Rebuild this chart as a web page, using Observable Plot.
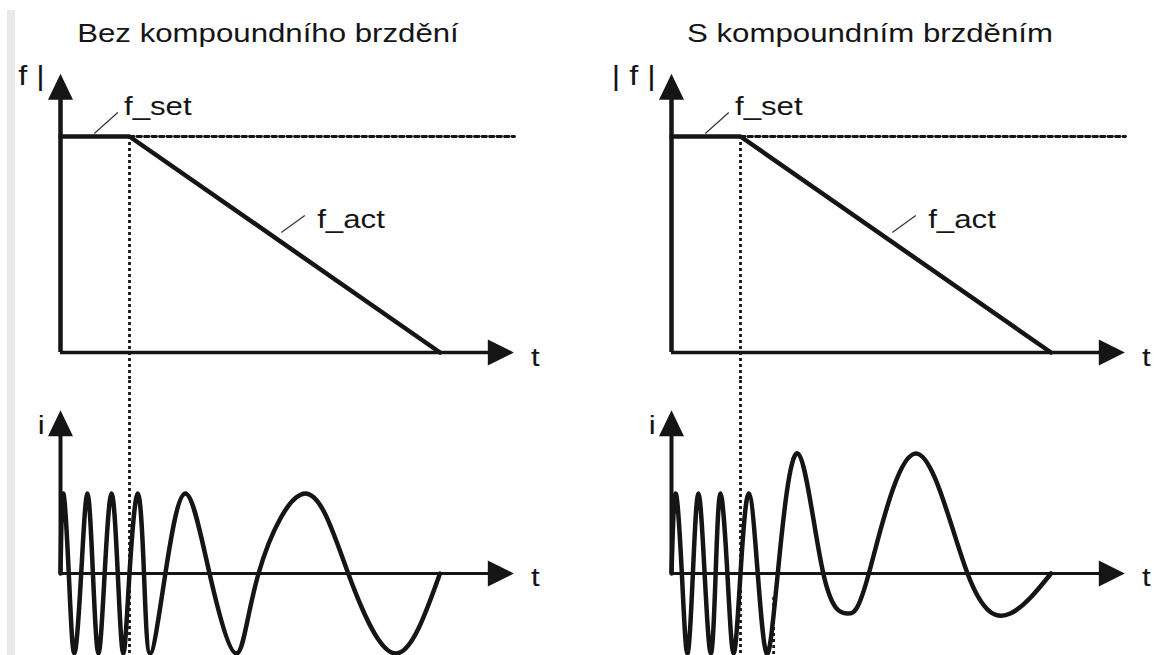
<!DOCTYPE html>
<html><head><meta charset="utf-8">
<script src="https://cdn.jsdelivr.net/npm/d3@7"></script>
<script src="https://cdn.jsdelivr.net/npm/@observablehq/plot@0.6"></script>
<style>
html,body{margin:0;padding:0;background:#fff;overflow:hidden;}
#root{position:relative;width:1155px;height:655px;font-family:"Liberation Sans",Arial,sans-serif;}
.strip{position:absolute;left:7px;top:10px;width:8px;height:645px;background:#e9e9e9;}
.title{position:absolute;top:20px;width:500px;text-align:center;font-size:26px;line-height:26px;color:#151515;transform:scaleX(1.2);white-space:nowrap;}
.cell{position:absolute;}
</style></head><body><div id="root"><div class="strip"></div></div>
<script>
// ---------- data ----------
const panelTitles = ["Bez kompoundního brzdění", "S kompoundním brzděním"];
const fAxisLabels = ["f |", "| f |"];
const iAxisLabel = "i";
const tAxisLabel = "t";
const fSetLabel = "f_set";
const fActLabel = "f_act";

// frequency: set value held, then linear ramp down (time in arbitrary units)
const fActTime = [0, 1.0, 5.5];
const fActValue = [1, 1, 0];
const fSetTime = [1.0, 6.58];
const fSetValue = [1, 1];
const brakeStart = 1.0;

// current waveforms: peaks, zero crossings, troughs
const waveTimeLeft = [0, 0.04, 0.12, 0.20, 0.30, 0.39, 0.47, 0.55, 0.64, 0.74, 0.83, 0.91, 1.00, 1.12, 1.21, 1.30, 1.52, 1.81, 2.16, 2.55, 2.87, 3.55, 4.17, 4.86, 5.50];
const waveCurrentLeft = [0, 1, 0, -1, 0, 1, 0, -1, 0, 1, 0, -1, 0, 1, 0, -1, 0, 1, 0, -1, 0, 1, 0, -1, 0];
const waveTimeRight = [0, 0.06, 0.15, 0.23, 0.31, 0.39, 0.48, 0.57, 0.64, 0.71, 0.81, 0.90, 1.00, 1.12, 1.25, 1.38, 1.54, 1.83, 2.20, 2.55, 2.86, 3.54, 4.29, 4.91, 5.50];
const waveCurrentRight = [0, 1, 0, -1, 0, 1, 0, -1, 0, 1, 0, -1, 0, 1, 0, -1, 0, 1.5, 0, -0.5, 0, 1.5, 0, -0.5, 0];
const extraMarkTime = [null, 1.48];

// ---------- layout ----------
const INK = "#151515";
const W = 544, ML = 60, MR = 1;
const xDomain = [0, 7];
const fDomain = [-0.1296, 1.6296];   // upper cell 380px tall, f=0 at 352, f=1 at 136
const iDomain = [-1.025, 2.4125];    // lower cell 275px tall, i=0 at 573
const tArrow = 6.57;
const panelLeft = [0, 611];
const titleCenter = [268, 870];
const STRETCH = 1.2;

const arrowRight = {draw(c){ c.moveTo(0,0); c.lineTo(-26,-13); c.lineTo(-26,13); c.closePath(); }};
const arrowUp = {draw(c){ c.moveTo(0,0); c.lineTo(-12.5,26); c.lineTo(12.5,26); c.closePath(); }};

// widen glyphs in place (the source lettering is horizontally stretched)
function stretch(svg, k) {
  svg.querySelectorAll("text").forEach(t => {
    const L = t.getComputedTextLength();
    if (L > 0) {
      t.setAttribute("textLength", (L * k).toFixed(2));
      t.setAttribute("lengthAdjust", "spacingAndGlyphs");
    }
  });
}

const common = {
  width: W, marginLeft: ML, marginRight: MR, marginTop: 0, marginBottom: 0,
  style: {background: "transparent", overflow: "visible", color: INK, fontFamily: '"Liberation Sans", Arial, sans-serif'}
};

function upper(k) {
  const fAct = fActTime.map((t, j) => ({t, f: fActValue[j]}));
  const fSet = fSetTime.map((t, j) => ({t, f: fSetValue[j]}));
  return Plot.plot({
    ...common, height: 380,
    x: {domain: xDomain, axis: null},
    y: {domain: fDomain, axis: null},
    marks: [
      Plot.ruleX([brakeStart], {y1: 1, y2: fDomain[0], stroke: INK, strokeWidth: 2.8, strokeDasharray: "3,3"}),
      Plot.line(fSet, {x: "t", y: "f", stroke: INK, strokeWidth: 2.8, strokeDasharray: "4.5,3"}),
      Plot.ruleY([0], {x1: 0, x2: 6.3, stroke: INK, strokeWidth: 3.5}),
      Plot.ruleX([0], {y1: 0, y2: 1.19, stroke: INK, strokeWidth: 4.5}),
      Plot.dot([0], {x: tArrow, y: 0, symbol: arrowRight, fill: INK, stroke: "none"}),
      Plot.dot([0], {x: 0, y: 1.29, symbol: arrowUp, fill: INK, stroke: "none"}),
      Plot.line(fAct, {x: "t", y: "f", stroke: INK, strokeWidth: 4.5, strokeLinecap: "round", strokeLinejoin: "miter"}),
      Plot.link([0], {x1: 0.49, y1: 1.014, x2: 0.83, y2: 1.111, stroke: "#333", strokeWidth: 1.2}),
      Plot.link([0], {x1: 3.2, y1: 0.556, x2: 3.54, y2: 0.634, stroke: "#333", strokeWidth: 1.2}),
      Plot.text([fSetLabel], {x: 0.92, y: 1.136, text: d => d, textAnchor: "start", fontSize: 26, fill: INK}),
      Plot.text([fActLabel], {x: 3.72, y: 0.617, text: d => d, textAnchor: "start", fontSize: 26, fill: INK}),
      Plot.text([fAxisLabels[k]], {x: -0.23, y: 1.28, text: d => d, textAnchor: "end", fontSize: 27, fill: INK}),
      Plot.text([tAxisLabel], {x: 6.82, y: -0.022, text: d => d, textAnchor: "start", fontSize: 26, fill: INK})
    ]
  });
}

function lower(k) {
  const tt = k === 0 ? waveTimeLeft : waveTimeRight;
  const ii = k === 0 ? waveCurrentLeft : waveCurrentRight;
  const wave = tt.map((t, j) => ({t, i: ii[j]}));
  const marks = [
    Plot.ruleX([brakeStart], {stroke: INK, strokeWidth: 2.8, strokeDasharray: "3,3"}),
    Plot.ruleY([0], {x1: 0, x2: 6.3, stroke: INK, strokeWidth: 3}),
    Plot.ruleX([0], {y1: 0, y2: 1.79, stroke: INK, strokeWidth: 4}),
    Plot.dot([0], {x: tArrow, y: 0, symbol: arrowRight, fill: INK, stroke: "none"}),
    Plot.dot([0], {x: 0, y: 2.04, symbol: arrowUp, fill: INK, stroke: "none"}),
    Plot.line(wave, {x: "t", y: "i", curve: "natural", stroke: INK, strokeWidth: 4.5}),
    Plot.text([iAxisLabel], {x: -0.23, y: 1.85, text: d => d, textAnchor: "end", fontSize: 26, fill: INK}),
    Plot.text([tAxisLabel], {x: 6.82, y: -0.046, text: d => d, textAnchor: "start", fontSize: 26, fill: INK})
  ];
  if (extraMarkTime[k] !== null) {
    marks.splice(1, 0, Plot.ruleX([extraMarkTime[k]], {y1: -0.3, y2: iDomain[0], stroke: INK, strokeWidth: 2.8, strokeDasharray: "3,3"}));
  }
  return Plot.plot({
    ...common, height: 275,
    x: {domain: xDomain, axis: null},
    y: {domain: iDomain, axis: null},
    marks
  });
}

const root = document.getElementById("root");
for (let k = 0; k < 2; k++) {
  const u = upper(k), l = lower(k);
  const cu = document.createElement("div"); cu.className = "cell";
  cu.style.left = panelLeft[k] + "px"; cu.style.top = "0px"; cu.appendChild(u);
  const cl = document.createElement("div"); cl.className = "cell";
  cl.style.left = panelLeft[k] + "px"; cl.style.top = "380px"; cl.appendChild(l);
  root.appendChild(cl); root.appendChild(cu);
  stretch(u, STRETCH); stretch(l, STRETCH);
  const t = document.createElement("div"); t.className = "title";
  t.style.left = (titleCenter[k] - 250) + "px"; t.textContent = panelTitles[k];
  root.appendChild(t);
}
</script></body></html>
